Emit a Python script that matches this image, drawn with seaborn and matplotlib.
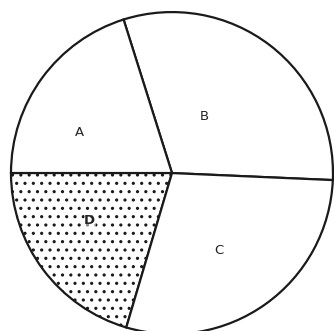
import matplotlib
matplotlib.use("Agg")
import matplotlib.pyplot as plt
import seaborn as sns
import numpy as np

# sector sizes (degrees), counter-clockwise from B/C edge
labels = ['B', 'A', 'D', 'C']
sizes = [110, 72.5, 73.5, 104]
hatches = ['', '', '..', '']

sns.set_theme(style='white')
plt.rcParams['font.family'] = ['DejaVu Sans']
plt.rcParams['hatch.linewidth'] = 1.1
plt.rcParams['hatch.color'] = '#222222'

fig = plt.figure(figsize=(3.34, 3.31), dpi=100)
ax = fig.add_axes([0, 0, 1, 1])

wedges, texts = ax.pie(sizes, labels=labels, startangle=-2.5, counterclock=True,
                       colors=['white'] * 4, labeldistance=0.55,
                       wedgeprops={'edgecolor': '#1a1a1a', 'linewidth': 1.6},
                       textprops={'fontsize': 9.5, 'color': '#222222'})
for w, h in zip(wedges, hatches):
    w.set_hatch(h)

# nudge labels toward where they sit in the sketch (radius, angle offset)
place = {'B': (0.39, 11), 'A': (0.6, 11.5), 'D': (0.56, -5), 'C': (0.55, -7)}
for t, w in zip(texts, wedges):
    r, off = place[t.get_text()]
    mid = np.deg2rad((w.theta1 + w.theta2) / 2 + off)
    t.set_position((r * np.cos(mid), r * np.sin(mid)))
texts[2].set_fontweight('bold')
texts[2].set_bbox({'facecolor': 'white', 'edgecolor': 'none', 'pad': 0.5, 'alpha': 0.5})

ax.set_xlim(-1.068, 1.006)
ax.set_ylim(-0.981, 1.075)
ax.set_aspect('equal')
ax.axis('off')

fig.savefig('out.png', dpi=100, facecolor='white')
